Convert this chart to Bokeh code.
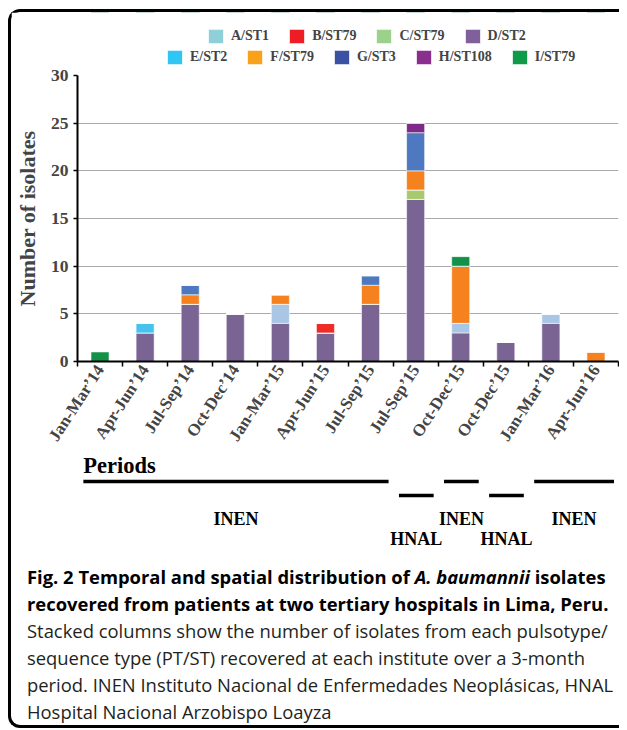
import math
from bokeh.plotting import figure
from bokeh.models import ColumnDataSource, Range1d, FixedTicker, Legend, LegendItem, Div
from bokeh.layouts import column
from bokeh.embed import file_html
from bokeh.resources import INLINE
from bokeh.core.properties import value

# ---------------- data ----------------
periods = ["Jan-Mar\u201914", "Apr-Jun\u201914", "Jul-Sep\u201914", "Oct-Dec\u201914",
           "Jan-Mar\u201915", "Apr-Jun\u201915", "Jul-Sep\u201915", "Jul-Sep\u201915",
           "Oct-Dec\u201915", "Oct-Dec\u201915", "Jan-Mar\u201916", "Apr-Jun\u201916"]
hospitals = ["INEN", "INEN", "INEN", "INEN", "INEN", "INEN", "INEN",
             "HNAL", "INEN", "HNAL", "INEN", "INEN"]

A_ST1   = [0, 0, 0, 0, 2, 0, 0, 0, 1, 0, 1, 0]
B_ST79  = [0, 0, 0, 0, 0, 1, 0, 0, 0, 0, 0, 0]
C_ST79  = [0, 0, 0, 0, 0, 0, 0, 1, 0, 0, 0, 0]
D_ST2   = [0, 3, 6, 5, 4, 3, 6, 17, 3, 2, 4, 0]
E_ST2   = [0, 1, 0, 0, 0, 0, 0, 0, 0, 0, 0, 0]
F_ST79  = [0, 0, 1, 0, 1, 0, 2, 2, 6, 0, 0, 1]
G_ST3   = [0, 0, 1, 0, 0, 0, 1, 4, 0, 0, 0, 0]
H_ST108 = [0, 0, 0, 0, 0, 0, 0, 1, 0, 0, 0, 0]
I_ST79  = [1, 0, 0, 0, 0, 0, 0, 0, 1, 0, 0, 0]

series_names = ["A/ST1", "B/ST79", "C/ST79", "D/ST2", "E/ST2",
                "F/ST79", "G/ST3", "H/ST108", "I/ST79"]
series_values = [A_ST1, B_ST79, C_ST79, D_ST2, E_ST2, F_ST79, G_ST3, H_ST108, I_ST79]
y_ticks = [0, 5, 10, 15, 20, 25, 30]

# ---------------- styles / layout ----------------
bar_colors = {"A/ST1": "#a9c6e5", "B/ST79": "#ee2b25", "C/ST79": "#a9c96f",
              "D/ST2": "#7a6494", "E/ST2": "#45c3ee", "F/ST79": "#f5821f",
              "G/ST3": "#4e79c0", "H/ST108": "#7d2b86", "I/ST79": "#139149"}
key_colors = {"A/ST1": "#8ecfd9", "B/ST79": "#ee1c25", "C/ST79": "#9bd18a",
              "D/ST2": "#80609a", "E/ST2": "#2fc6f3", "F/ST79": "#f9a11b",
              "G/ST3": "#3952a4", "H/ST108": "#8b2f8f", "I/ST79": "#0e9a48"}
stack_order = ["D/ST2", "A/ST1", "E/ST2", "C/ST79", "B/ST79",
               "F/ST79", "G/ST3", "H/ST108", "I/ST79"]
SERIF = "Liberation Serif"
W = 608
LEFT = 65
RIGHT = 1
KEY_H = 54
P_TOP = 9
AXIS_PX = 288
P_BOTTOM = 89
Q_H = 99
CAP_H = 174

data = {"x": list(range(len(periods)))}
for n, v in zip(series_names, series_values):
    data[n] = v
src = ColumnDataSource(data)

x_range = Range1d(-0.5, len(periods) - 0.5)

# ---------------- key (legend) strip ----------------
# the key strip shows no bars: its y range lies below all counts
lf = figure(width=W, height=KEY_H, x_range=x_range, y_range=Range1d(-KEY_H - 1, -1),
            output_backend="svg", toolbar_location=None,
            min_border_left=LEFT, min_border_right=RIGHT,
            min_border_top=0, min_border_bottom=0)
lf.axis.visible = False
lf.grid.grid_line_color = None
lf.outline_line_color = None
key_rends = {n: lf.vbar(x="x", top=n, width=0.4, source=src, fill_color=key_colors[n],
                        line_color="white", line_width=0.8)
             for n in series_names}

def make_legend(names, x, y):
    return Legend(items=[LegendItem(label=n, renderers=[key_rends[n]]) for n in names],
                  orientation="horizontal", location=(x, y),
                  border_line_color=None, background_fill_alpha=0,
                  label_text_font=SERIF, label_text_font_style="bold",
                  label_text_font_size="14px", glyph_width=19, glyph_height=18,
                  label_standoff=6, spacing=18, padding=0, margin=0,
                  label_height=18)

lf.add_layout(make_legend(series_names[:4], 129, 21))
lf.add_layout(make_legend(series_names[4:], 88, 0))

# ---------------- chart ----------------
p = figure(width=W, height=P_TOP + AXIS_PX + P_BOTTOM, x_range=x_range,
           y_range=Range1d(y_ticks[0], y_ticks[-1]),
           output_backend="svg", toolbar_location=None,
           min_border_left=LEFT, min_border_right=RIGHT,
           min_border_top=P_TOP, min_border_bottom=P_BOTTOM)
p.outline_line_color = None
p.background_fill_color = "white"
p.border_fill_color = "white"

p.vbar_stack(stack_order, x="x", width=0.4, source=src,
             fill_color=[bar_colors[s] for s in stack_order],
             line_color="white", line_width=0.8, line_alpha=0.7)

p.xgrid.grid_line_color = None
p.ygrid.grid_line_color = "#aaaaaa"
p.ygrid.grid_line_width = 1.2
p.yaxis.ticker = FixedTicker(ticks=y_ticks)
p.yaxis.axis_label = "Number of isolates"
p.yaxis.axis_label_text_font = SERIF
p.yaxis.axis_label_text_font_style = "bold"
p.yaxis.axis_label_text_font_size = "22px"
p.yaxis.axis_label_standoff = 8
p.yaxis.major_label_text_font = SERIF
p.yaxis.major_label_text_font_style = "bold"
p.yaxis.major_label_text_font_size = "17.5px"
p.yaxis.major_label_standoff = 5
p.yaxis.major_tick_out = 4
p.yaxis.major_tick_in = 0
p.yaxis.minor_tick_line_color = None
p.yaxis.axis_line_width = 2
p.yaxis.major_tick_line_width = 1.5

p.xaxis.ticker = FixedTicker(ticks=list(range(len(periods))),
                             minor_ticks=[i - 0.5 for i in range(len(periods) + 1)])
p.xaxis.major_label_overrides = {i: lab for i, lab in enumerate(periods)}
p.xaxis.major_tick_out = 0
p.xaxis.major_tick_in = 0
p.xaxis.minor_tick_out = 5
p.xaxis.minor_tick_in = 0
p.xaxis.minor_tick_line_width = 1.5
p.xaxis.minor_tick_line_color = "black"
p.xaxis.axis_line_width = 2
p.xaxis.major_label_orientation = math.radians(57)
p.xaxis.major_label_text_font = SERIF
p.xaxis.major_label_text_font_style = "bold"
p.xaxis.major_label_text_font_size = "17px"
p.xaxis.major_label_standoff = 0

# ---------------- periods strip ----------------
q = figure(width=W, height=Q_H, x_range=x_range, y_range=Range1d(Q_H, 0),
           output_backend="svg", toolbar_location=None,
           min_border_left=LEFT, min_border_right=RIGHT,
           min_border_top=0, min_border_bottom=0)
q.axis.visible = False
q.grid.grid_line_color = None
q.outline_line_color = None

runs = []
start = 0
for i in range(1, len(hospitals) + 1):
    if i == len(hospitals) or hospitals[i] != hospitals[start]:
        runs.append((hospitals[start], start, i - 1))
        start = i

line_level = {"INEN": 29, "HNAL": 43}
text_level = {"INEN": 66, "HNAL": 86.5}
x0 = [s - 0.5 + 0.13 for _, s, e in runs]
x1 = [e + 0.5 - 0.1 for _, s, e in runs]
ly = [line_level[h] for h, _, _ in runs]
q.segment(x0=x0, y0=ly, x1=x1, y1=ly, line_color="black", line_width=3.5)
q.text(x=[(a + b) / 2 for a, b in zip(x0, x1)], y=[text_level[h] for h, _, _ in runs],
       text=[h for h, _, _ in runs], text_font=value(SERIF), text_font_style="bold",
       text_font_size="18px", text_align="center", text_baseline="middle", text_color="black")
q.text(x=[x0[0]], y=[12.5], text=["Periods"], text_font=value(SERIF), text_font_style="bold",
       text_font_size="22.5px", text_align="left", text_baseline="middle", text_color="black")

# ---------------- caption ----------------
caption_html = (
    '<div style="font-family:\'Open Sans\',sans-serif;font-size:18.4px;line-height:27px;'
    'color:#231f20;padding:12px 0 0 16px;white-space:nowrap;">'
    '<b style="color:#000">Fig. 2 Temporal and spatial distribution of <i>A. baumannii</i> isolates<br>'
    'recovered from patients at two tertiary hospitals in Lima, Peru.</b><br>'
    'Stacked columns show the number of isolates from each pulsotype/<br>'
    'sequence type (PT/ST) recovered at each institute over a 3-month<br>'
    'period. INEN Instituto Nacional de Enfermedades Neopl\u00e1sicas, HNAL<br>'
    'Hospital Nacional Arzobispo Loayza</div>')
cap = Div(text=caption_html, width=W, height=CAP_H, margin=0)

layout = column(lf, p, q, cap, spacing=0,
                styles={"margin-left": "8px", "margin-top": "9px",
                        "border-top": "3px solid #000", "border-left": "3px solid #000",
                        "border-bottom": "3px solid #000",
                        "border-top-left-radius": "12px", "border-bottom-left-radius": "12px"})

open("out.html", "w").write(file_html(layout, INLINE))
